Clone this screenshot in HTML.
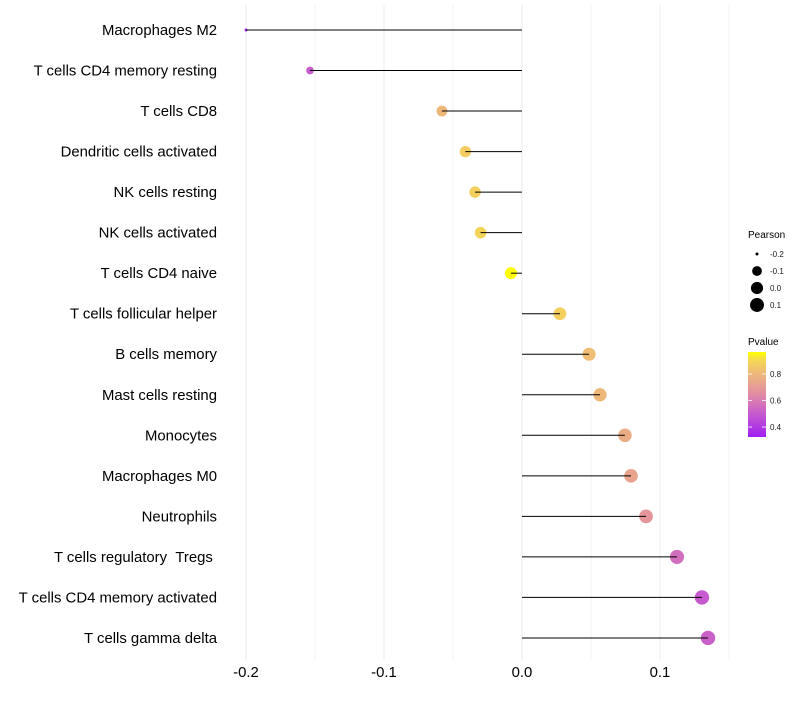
<!DOCTYPE html>
<html><head><meta charset="utf-8"><style>
body{margin:0;background:#fff;font-family:"Liberation Sans",sans-serif;}
svg text{font-family:"Liberation Sans",sans-serif;white-space:pre;}
</style></head><body>
<svg id="c" width="800" height="700" xmlns="http://www.w3.org/2000/svg"></svg>
<script>
const categories=["Macrophages M2","T cells CD4 memory resting","T cells CD8","Dendritic cells activated","NK cells resting","NK cells activated","T cells CD4 naive","T cells follicular helper","B cells memory","Mast cells resting","Monocytes","Macrophages M0","Neutrophils","T cells regulatory\u00a0\u00a0Tregs\u00a0","T cells CD4 memory activated","T cells gamma delta"];
const pearson=[-0.200,-0.1536,-0.058,-0.041,-0.034,-0.030,-0.008,0.0275,0.0486,0.0565,0.0746,0.079,0.0899,0.1123,0.1304,0.1348];
const pvalue=[0.33,0.5,0.8,0.87,0.88,0.89,0.965,0.88,0.82,0.8,0.76,0.73,0.68,0.56,0.5,0.52];
const xTicks=[-0.2,-0.1,0.0,0.1];
const xTickLabels=["-0.2","-0.1","0.0","0.1"];
const sizeLegend=[-0.2,-0.1,0.0,0.1];
const colorLegend=[0.8,0.6,0.4];
const NS="http://www.w3.org/2000/svg";
const svg=document.getElementById('c');
const x=v=>522+v*1380;
const y=i=>30+i*40.53;
const pmin=0.325,pmax=0.966;
const stops=[[0,[160,32,240]],[0.25,[195,85,210]],[0.5,[225,140,165]],[0.75,[238,185,120]],[0.9,[245,215,85]],[1,[255,255,0]]];
function col(p){let t=Math.max(0,Math.min(1,(p-pmin)/(pmax-pmin)));for(let k=1;k<stops.length;k++){if(t<=stops[k][0]){const a=stops[k-1],b=stops[k];const f=(t-a[0])/(b[0]-a[0]);return 'rgb('+a[1].map((c,j)=>Math.round(c+(b[1][j]-c)*f)).join(',')+')';}}return 'rgb(255,255,0)';}
const vmin=-0.2,vmax=0.1348;
function rad(v){const t=Math.max(0,(v-vmin)/(vmax-vmin));return Math.sqrt(2.25+50*Math.pow(t,0.7));}
function mk(t,a,p){const e=document.createElementNS(NS,t);for(const k in a)e.setAttribute(k,a[k]);(p||svg).appendChild(e);return e;}
for(let g=-0.2;g<=0.151;g+=0.05){const l=mk('line',{x1:x(g),x2:x(g),y1:5,y2:660,stroke:'#ebebeb','stroke-width':Math.abs(Math.round(g*20)%2)===0?1:0.6});

}
categories.forEach((c,i)=>{
const t=mk('text',{x:217,y:y(i)+5,'text-anchor':'end','font-size':14.9,fill:'#000'});t.textContent=c;


const dot=mk('circle',{cx:x(pearson[i]),cy:y(i),r:rad(pearson[i]),fill:col(pvalue[i])});


const ln=mk('line',{x1:x(0),x2:x(pearson[i]),y1:y(i),y2:y(i),stroke:'#000','stroke-width':1});


});
xTicks.forEach((v,i)=>{const t=mk('text',{x:x(v),y:677,'text-anchor':'middle','font-size':14.9,fill:'#000'});t.textContent=xTickLabels[i];

});
const lt=mk('text',{x:748,y:238,'font-size':10,fill:'#000'});lt.textContent='Pearson';


sizeLegend.forEach((v,i)=>{const cy=254+i*17;const c=mk('circle',{cx:757,cy:cy,r:rad(v),fill:'#000'});


const t=mk('text',{x:770,y:cy+3,'font-size':8,fill:'#1a1a1a'});t.textContent=(v>=-0.001&&v<0.001)?'0.0':v.toFixed(1);

});
const ct=mk('text',{x:748,y:345,'font-size':10,fill:'#000'});ct.textContent='Pvalue';


const defs=mk('defs',{});const gr=mk('linearGradient',{id:'pg',x1:0,y1:1,x2:0,y2:0},defs);
stops.forEach(s=>mk('stop',{offset:s[0],'stop-color':'rgb('+s[1].join(',')+')'},gr));
const bar=mk('rect',{x:748,y:352,width:18,height:85,fill:'url(#pg)'});


colorLegend.forEach(v=>{const cy=437-(v-pmin)/(pmax-pmin)*85;
mk('line',{x1:748,x2:752,y1:cy,y2:cy,stroke:'#fff','stroke-width':0.8});mk('line',{x1:762,x2:766,y1:cy,y2:cy,stroke:'#fff','stroke-width':0.8});
const t=mk('text',{x:770,y:cy+3,'font-size':8,fill:'#1a1a1a'});t.textContent=v.toFixed(1);

});
</script>
</body></html>
